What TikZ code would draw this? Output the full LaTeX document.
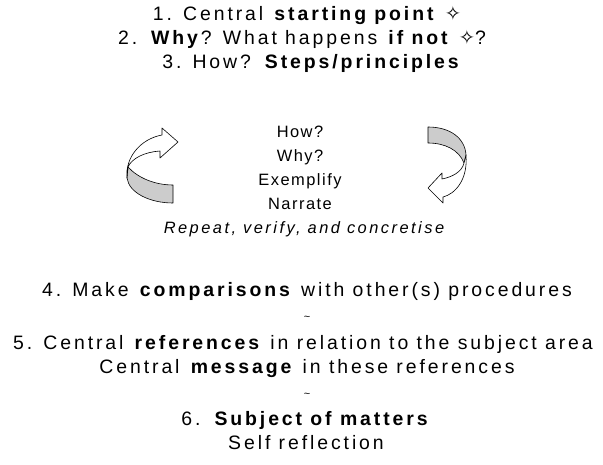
\documentclass[tikz,border=0pt]{standalone}
\usepackage{fontspec}
\setmainfont{Liberation Sans}[LetterSpace=15]
\newfontfamily\symfont{DejaVu Sans}
\definecolor{bandgray}{gray}{0.8}
\begin{document}
\begin{tikzpicture}[x=1bp,y=-1bp,
    txt/.style={font=\fontsize{19.5}{22}\selectfont,inner sep=0pt,anchor=base},
    mid/.style={font=\fontsize{16.5}{18}\selectfont\addfontfeature{LetterSpace=9},inner sep=0pt,anchor=base},
    sep/.style={font=\fontsize{11}{12}\selectfont,inner sep=0pt,anchor=base},
    ribbon/.style={draw,line width=0.6pt,line join=round}]
    \useasboundingbox (0,0) rectangle (603,465);
    \node[txt] (one) at (307,21) {1. Central \textbf{starting point} {\symfont ✧}};
    \node[txt] (two) at (302,45) {2. \textbf{Why}? What happens \textbf{if not} {\symfont ✧}?};
    \node[txt] (three) at (312,69) {3. How? \textbf{Steps/principles}};
    \node[mid] (how) at (300,138) {How?};
    \node[mid] (why) at (300,162) {Why?};
    \node[mid] (exemplify) at (300,186) {Exemplify};
    \node[mid] (narrate) at (300,210) {Narrate};
    \node[mid,font=\fontsize{16.5}{18}\selectfont\itshape\addfontfeature{LetterSpace=15}] (repeat) at (304,234)
        {Repeat, verify, and concretise};
    \node[txt] (four) at (307,297) {4. Make \textbf{comparisons} with other(s) procedures};
    \node[sep] (tildeA) at (307,320) {\textasciitilde};
    \node[txt] (five) at (303,349) {5. Central \textbf{references} in relation to the subject area};
    \node[txt] (message) at (307,373) {Central \textbf{message} in these references};
    \node[sep] (tildeB) at (307,397) {\textasciitilde};
    \node[txt] (six) at (306,425) {6. \textbf{Subject of matters}};
    \node[txt] (self) at (306,449) {Self reflection};
    \draw[ribbon,fill=bandgray] (173,185) -- (173,203) .. controls (150,203) and (129,193) .. (127,178)
        -- (128,167) .. controls (138,178) and (155,185) .. (173,185) -- cycle;
    \draw[ribbon,fill=white] (127,178) .. controls (125,158) and (140,139) .. (162,135) -- (162,128)
        -- (178,142) -- (160,158) -- (160,151) .. controls (145,152) and (132,158) .. (128,167) -- cycle;
    \draw[ribbon,fill=bandgray] (428,127) -- (428,143) .. controls (445,143) and (459,150) .. (464,163)
        -- (466,155) .. controls (465,138) and (450,127) .. (428,127) -- cycle;
    \draw[ribbon,fill=white] (466,155) .. controls (468,180) and (455,194) .. (443,197) -- (443,203)
        -- (428,188) -- (442,173) -- (442,179) .. controls (452,177) and (462,172) .. (464,163) -- cycle;
\end{tikzpicture}
\end{document}
